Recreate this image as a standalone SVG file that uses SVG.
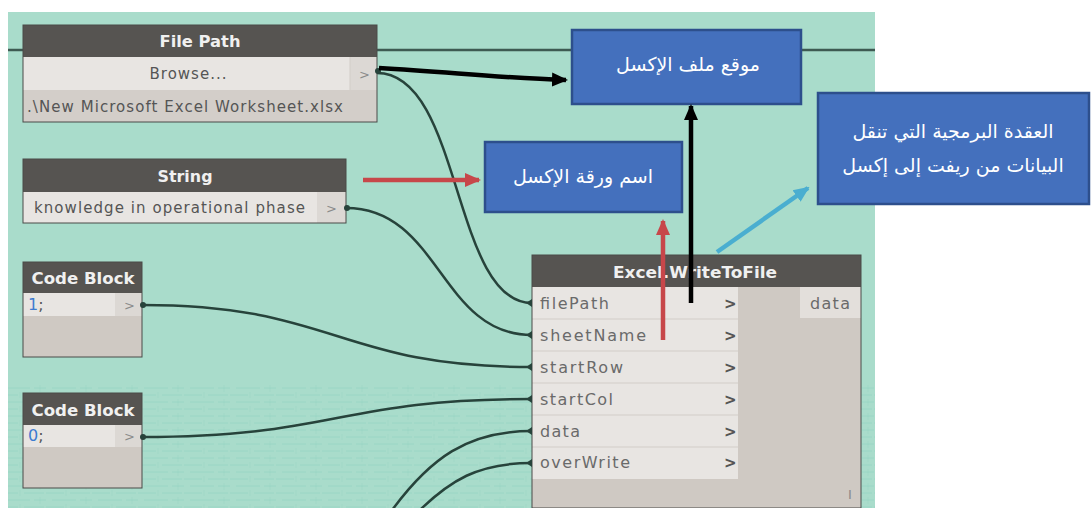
<svg xmlns="http://www.w3.org/2000/svg" width="1092" height="508" viewBox="0 0 1092 508">
<style>
.hdr{fill:#565451}
.row{fill:#e8e5e2}
.body{fill:#cfc9c3}
.frame{fill:none;stroke:#4a4a48;stroke-width:1}
.sep{stroke:#d2cdc8;stroke-width:1}
.ht{font-family:"DejaVu Sans","Open Sans",sans-serif;font-weight:bold;font-size:16px;fill:#f0f0f0;text-anchor:middle}
.bt{font-family:"DejaVu Sans","Open Sans",sans-serif;font-size:15px;fill:#555555}
.it{font-family:"DejaVu Sans","Open Sans",sans-serif;font-size:16px;fill:#6a6a6a}
.gt{font-family:"DejaVu Sans",sans-serif;font-size:13px;fill:#8a8a8a}
.chev{font-family:"DejaVu Sans",sans-serif;font-weight:bold;font-size:15px;fill:#555}
.wire{fill:none;stroke:#27433b;stroke-width:2.5}
.port{fill:#27433b}
.callout{fill:#4470bd;stroke:#2d4f8c;stroke-width:2.5}
.at{font-family:"DejaVu Sans","Noto Sans",sans-serif;font-size:19px;fill:#ffffff;text-anchor:middle;direction:rtl}
</style>
<defs>
<marker id="mBlack" markerUnits="userSpaceOnUse" markerWidth="16" markerHeight="16" refX="14" refY="8" orient="auto"><path d="M0,1 L16,8 L0,15 Z" fill="#000"/></marker>
<marker id="mRed" markerUnits="userSpaceOnUse" markerWidth="16" markerHeight="16" refX="14" refY="8" orient="auto"><path d="M0,1 L16,8 L0,15 Z" fill="#c7474a"/></marker>
<marker id="mCyan" markerUnits="userSpaceOnUse" markerWidth="16" markerHeight="16" refX="14" refY="8" orient="auto"><path d="M0,1 L16,8 L0,15 Z" fill="#4aaed0"/></marker>
<pattern id="hatch" width="46" height="14" patternUnits="userSpaceOnUse">
<path d="M0,3 H18 M24,3 H44 M6,10 H30 M34,10 H46" stroke="#8fcfc0" stroke-width="0.8" opacity="0.7"/>
<path d="M20,0 V6 M40,7 V14" stroke="#8fcfc0" stroke-width="0.6" opacity="0.6"/>
</pattern>
</defs>

<rect x="0" y="0" width="1092" height="508" fill="#ffffff"/>
<rect x="8" y="12" width="867" height="496" fill="#a9dccb"/>
<rect x="8" y="385" width="867" height="123" fill="url(#hatch)"/>

<g id="connectors">
<line x1="8" y1="50" x2="875" y2="50" stroke="#3e5a52" stroke-width="2.5"/>
<path class="wire" d="M377,73 C462,73 452,303 532,303"/>
<path class="wire" d="M346,208 C440,208 440,335 532,335"/>
<path class="wire" d="M142,305 C337,305 337,367 532,367"/>
<path class="wire" d="M142,437 C337,437 337,399 532,399"/>
<path class="wire" d="M385,520 C430,455 470,431 532,431"/>
<path class="wire" d="M410,520 C450,478 480,463 532,463"/>
</g>

<g id="node-filepath">
<rect x="23" y="25" width="354" height="32" class="hdr"/>
<rect x="23" y="57" width="354" height="33" class="row"/>
<rect x="350" y="57" width="27" height="33" fill="#dcd8d4"/>
<line x1="350" y1="57" x2="350" y2="90" class="sep"/>
<rect x="23" y="90" width="354" height="32" fill="#d3cec9"/>
<rect x="23" y="25" width="354" height="97" class="frame"/>
<text x="200" y="47" class="ht" textLength="81" lengthAdjust="spacingAndGlyphs">File Path</text>
<text x="188" y="79" class="bt" text-anchor="middle" textLength="77" lengthAdjust="spacing">Browse...</text>
<text x="359" y="79" class="gt">&gt;</text>
<text x="27" y="112" class="bt" textLength="316" lengthAdjust="spacing">.\New Microsoft Excel Worksheet.xlsx</text>
<circle cx="378" cy="71" r="3" class="port"/>
</g>

<g id="node-string">
<rect x="23" y="159" width="323" height="33" class="hdr"/>
<rect x="23" y="192" width="323" height="31" class="row"/>
<rect x="317" y="192" width="29" height="31" fill="#dcd8d4"/>
<rect x="23" y="159" width="323" height="64" class="frame"/>
<text x="185" y="182" class="ht" textLength="55" lengthAdjust="spacingAndGlyphs">String</text>
<text x="34" y="213" class="bt" textLength="271" lengthAdjust="spacing">knowledge in operational phase</text>
<text x="326" y="213" class="gt">&gt;</text>
<circle cx="347" cy="208" r="3" class="port"/>
</g>

<g id="node-code1">
<rect x="23" y="262" width="119" height="31" class="hdr"/>
<rect x="23" y="293" width="119" height="23" class="row"/>
<rect x="115" y="293" width="27" height="23" fill="#dcd8d4"/>
<rect x="23" y="316" width="119" height="41" class="body"/>
<rect x="23" y="262" width="119" height="95" class="frame"/>
<text x="83" y="284" class="ht" textLength="103" lengthAdjust="spacingAndGlyphs">Code Block</text>
<text x="28" y="310" class="it" style="fill:#3d7bd0">1<tspan style="fill:#555">;</tspan></text>
<text x="124" y="310" class="gt">&gt;</text>
<circle cx="143" cy="305" r="3" class="port"/>
</g>

<g id="node-code2">
<rect x="23" y="393" width="119" height="32" class="hdr"/>
<rect x="23" y="425" width="119" height="22" class="row"/>
<rect x="115" y="425" width="27" height="22" fill="#dcd8d4"/>
<rect x="23" y="447" width="119" height="41" class="body"/>
<rect x="23" y="393" width="119" height="95" class="frame"/>
<text x="83" y="416" class="ht" textLength="103" lengthAdjust="spacingAndGlyphs">Code Block</text>
<text x="28" y="441" class="it" style="fill:#3d7bd0">0<tspan style="fill:#555">;</tspan></text>
<text x="124" y="441" class="gt">&gt;</text>
<circle cx="143" cy="437" r="3" class="port"/>
</g>

<g id="node-excel">
<rect x="532" y="255" width="329" height="32" class="hdr"/>
<rect x="532" y="287" width="329" height="221" class="body"/>
<rect x="532" y="287" width="206" height="192" class="row"/>
<line x1="532" y1="319" x2="738" y2="319" class="sep"/>
<line x1="532" y1="351" x2="738" y2="351" class="sep"/>
<line x1="532" y1="383" x2="738" y2="383" class="sep"/>
<line x1="532" y1="415" x2="738" y2="415" class="sep"/>
<line x1="532" y1="447" x2="738" y2="447" class="sep"/>
<rect x="800" y="287" width="61" height="31" fill="#e3dfdb"/>
<rect x="532" y="255" width="329" height="253" class="frame"/>
<text x="695" y="278" class="ht" textLength="164" lengthAdjust="spacingAndGlyphs">Excel.WriteToFile</text>
<text x="540" y="309" class="it" textLength="69" lengthAdjust="spacing">filePath</text>
<text x="540" y="341" class="it" textLength="106" lengthAdjust="spacing">sheetName</text>
<text x="540" y="373" class="it" textLength="83" lengthAdjust="spacing">startRow</text>
<text x="540" y="405" class="it" textLength="73" lengthAdjust="spacing">startCol</text>
<text x="540" y="437" class="it" textLength="40" lengthAdjust="spacing">data</text>
<text x="540" y="468" class="it" textLength="90" lengthAdjust="spacing">overWrite</text>
<text x="724" y="309" class="chev">&gt;</text>
<text x="724" y="341" class="chev">&gt;</text>
<text x="724" y="373" class="chev">&gt;</text>
<text x="724" y="405" class="chev">&gt;</text>
<text x="724" y="437" class="chev">&gt;</text>
<text x="724" y="468" class="chev">&gt;</text>
<text x="810" y="309" class="it" textLength="40" lengthAdjust="spacing">data</text>
<text x="848" y="499" class="gt" font-size="9">I</text>
<path d="M532,299 L526,303 L532,307 Z M532,331 L526,335 L532,339 Z M532,363 L526,367 L532,371 Z M532,395 L526,399 L532,403 Z M532,427 L526,431 L532,435 Z M532,459 L526,463 L532,467 Z" class="port"/>
</g>

<g id="callout-file">
<rect x="572" y="30" width="229" height="74" class="callout"/>
<text x="688" y="71" class="at">موقع ملف الإكسل</text>
</g>

<g id="callout-sheet">
<rect x="485" y="142" width="197" height="70" class="callout"/>
<text x="583" y="183" class="at">اسم ورقة الإكسل</text>
</g>

<g id="callout-node">
<rect x="818" y="93" width="271" height="111" class="callout"/>
<text x="953" y="138" class="at">العقدة البرمجية التي تنقل</text>
<text x="953" y="172" class="at">البيانات من ريفت إلى إكسل</text>
</g>

<g id="annotation-arrows">
<path d="M379,68 C450,72 500,78 566,80" fill="none" stroke="#000" stroke-width="4.5" marker-end="url(#mBlack)"/>
<line x1="691" y1="303" x2="691" y2="106" stroke="#000" stroke-width="4.5" marker-end="url(#mBlack)"/>
<line x1="363" y1="180" x2="479" y2="180" stroke="#c7474a" stroke-width="4.5" marker-end="url(#mRed)"/>
<line x1="663" y1="340" x2="663" y2="221" stroke="#c7474a" stroke-width="4.5" marker-end="url(#mRed)"/>
<line x1="717" y1="252" x2="808" y2="188" stroke="#4aaed0" stroke-width="4.5" marker-end="url(#mCyan)"/>
</g>
</svg>
